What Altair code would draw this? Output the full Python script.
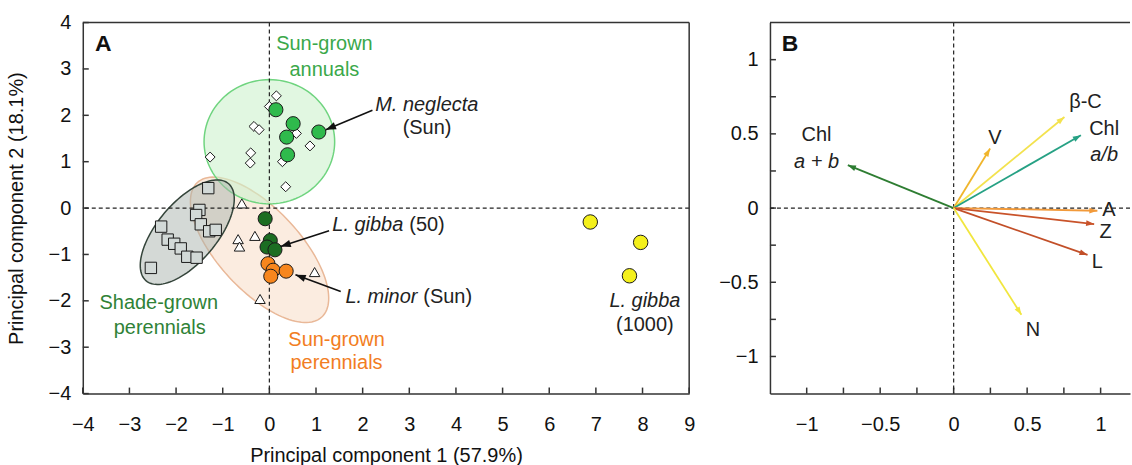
import altair as alt
import pandas as pd
import numpy as np

FONT = "Liberation Sans"

# ---------------- Panel A data ----------------
ann_x = [0.14, 0.51, 1.06, 0.37, 0.39]
ann_y = [2.12, 1.82, 1.64, 1.53, 1.15]
dia_x = [0.15, 0.00, -0.33, -0.22, 0.58, 0.87, -1.27, -0.40, -0.41, 0.28, 0.35]
dia_y = [2.42, 2.19, 1.76, 1.69, 1.61, 1.34, 1.10, 1.19, 0.97, 1.00, 0.46]
sq_x = [-1.31, -1.50, -1.57, -1.47, -1.29, -1.15, -2.32, -2.18, -2.04, -1.90, -1.76, -1.56, -2.54]
sq_y = [0.43, -0.04, -0.15, -0.35, -0.50, -0.47, -0.40, -0.68, -0.77, -0.87, -1.05, -1.07, -1.29]
tri_x = [-0.59, -0.67, -0.64, -0.31, 0.97, -0.20]
tri_y = [0.10, -0.67, -0.83, -0.60, -1.38, -1.96]
lg50_x = [-0.09, 0.02, -0.05, 0.12]
lg50_y = [-0.23, -0.70, -0.84, -0.90]
lmin_x = [-0.03, 0.08, 0.36, 0.03]
lmin_y = [-1.20, -1.34, -1.36, -1.47]
lg1000_x = [6.88, 7.96, 7.72]
lg1000_y = [-0.30, -0.74, -1.46]

# confidence ellipses: sun-grown perennials, sun-grown annuals, shade-grown perennials
ell_name = ["sunper", "annual", "shade"]
ell_cx = [-0.21, 0.00, -1.76]
ell_cy = [-0.90, 1.43, -0.52]
ell_a = [1.97, 1.40, 1.37]
ell_b = [0.88, 1.34, 0.64]
ell_ang = [-47.4, 0.0, 50.0]
ell_fill = ["#f8dcc6", "#cdf1cd", "#aab3ae"]
ell_stroke = ["#e9b898", "#6fd47f", "#34443a"]
ell_fop = [0.55, 0.6, 0.5]

# annotation arrows (from -> to)
arrA_x1 = [2.21, 1.28, 1.53]
arrA_y1 = [2.11, -0.49, -1.80]
arrA_x2 = [1.21, 0.24, 0.56]
arrA_y2 = [1.69, -0.83, -1.44]

# ---------------- Panel B data ----------------
var_name = ["Chl a+b", "V", "β-C", "Chl a/b", "A", "Z", "L", "N"]
var_x = [-0.72, 0.248, 0.754, 0.866, 0.978, 0.956, 0.911, 0.461]
var_y = [0.289, 0.401, 0.614, 0.491, -0.018, -0.108, -0.316, -0.719]
var_col = ["#2e7d32", "#f0b52c", "#f3e24e", "#26a184", "#f29a3a", "#c9532a", "#c24f28", "#f1e63e"]

A_TICKS_X = list(range(-4, 10))
A_TICKS_Y = list(range(-4, 5))
B_TICKS = [-1, -0.75, -0.5, -0.25, 0, 0.25, 0.5, 0.75, 1]
B_LABELS = [-1, -0.5, 0, 0.5, 1]

A_W, A_H = 608, 372
B_W, B_H = 361, 372
AX_DOM, AY_DOM = [-4, 9], [-4, 4]
BX_DOM, BY_DOM = [-1.25, 1.2], [-1.25, 1.25]
A_SX, A_SY = A_W / 13, A_H / 8
B_SX, B_SY = B_W / 2.45, B_H / 2.5

INK = "#222222"


def X(dom, field="x", axis=None):
    kw = {"axis": axis} if axis is not None else {}
    return alt.X(field, type="quantitative", scale=alt.Scale(domain=dom, nice=False, zero=False), **kw)


def Y(dom, field="y", axis=None):
    kw = {"axis": axis} if axis is not None else {}
    return alt.Y(field, type="quantitative", scale=alt.Scale(domain=dom, nice=False, zero=False), **kw)


def arrow_df(x1, y1, x2, y2, sx, sy, extra=None):
    d = pd.DataFrame({"x": x1, "y": y1, "x2": x2, "y2": y2})
    dx = (d["x2"] - d["x"]) * sx
    dy = -(d["y2"] - d["y"]) * sy
    d["ang"] = (np.degrees(np.arctan2(dx, -dy)) + 360) % 360
    if extra:
        for k, v in extra.items():
            d[k] = v
    return d


HEAD = "M0,0L-0.36,1L0.36,1Z"

# ================= Panel A =================
axA_x = alt.Axis(values=A_TICKS_X, title="Principal component 1 (57.9%)", format="d",
                 labelPadding=21, titlePadding=11)
axA_y = alt.Axis(values=A_TICKS_Y, title="Principal component 2 (18.1%)", format="d",
                 labelPadding=12, titlePadding=22)

layersA = []
# ticks (inward) carrying axes
layersA.append(alt.Chart(pd.DataFrame({"x": A_TICKS_X})).mark_rule(color="#333", strokeWidth=1.5).encode(
    x=X(AX_DOM, axis=axA_x), y=alt.value(A_H), y2=alt.value(A_H - 6)))
layersA.append(alt.Chart(pd.DataFrame({"y": A_TICKS_Y})).mark_rule(color="#333", strokeWidth=1.5).encode(
    y=Y(AY_DOM, axis=axA_y), x=alt.value(0), x2=alt.value(6)))

# ellipses
t = np.linspace(0, 2 * np.pi, 121)
for i in range(len(ell_name)):
    th = np.radians(ell_ang[i])
    ex = ell_cx[i] + ell_a[i] * np.cos(t) * np.cos(th) - ell_b[i] * np.sin(t) * np.sin(th)
    ey = ell_cy[i] + ell_a[i] * np.cos(t) * np.sin(th) + ell_b[i] * np.sin(t) * np.cos(th)
    de = pd.DataFrame({"x": ex, "y": ey, "i": np.arange(len(t))})
    layersA.append(alt.Chart(de).mark_line(interpolate="linear-closed", fill=ell_fill[i],
                                           fillOpacity=ell_fop[i], stroke=ell_stroke[i],
                                           strokeWidth=1.5).encode(
        x=X(AX_DOM), y=Y(AY_DOM), order="i:Q"))

# zero lines and frame
layersA.append(alt.Chart(pd.DataFrame({"x": [0]})).mark_rule(color=INK, strokeDash=[4, 3], strokeWidth=1.2).encode(x=X(AX_DOM)))
layersA.append(alt.Chart(pd.DataFrame({"y": [0]})).mark_rule(color=INK, strokeDash=[4, 3], strokeWidth=1.2).encode(y=Y(AY_DOM)))
layersA.append(alt.Chart(pd.DataFrame({"y": [AY_DOM[1]]})).mark_rule(color="#333", strokeWidth=1.5).encode(y=Y(AY_DOM)))
layersA.append(alt.Chart(pd.DataFrame({"x": [AX_DOM[1]]})).mark_rule(color="#333", strokeWidth=1.5).encode(x=X(AX_DOM)))


def pts(xs, ys, shape, size, fill, sw=1.0):
    return alt.Chart(pd.DataFrame({"x": xs, "y": ys})).mark_point(
        shape=shape, size=size, filled=True, fill=fill, stroke="#1a1a1a", strokeWidth=sw, opacity=1).encode(
        x=X(AX_DOM), y=Y(AY_DOM))


layersA.append(pts(sq_x, sq_y, "square", 130, "#d2d9d7"))
layersA.append(pts(dia_x, dia_y, "diamond", 100, "#ffffff"))
layersA.append(pts(tri_x, tri_y, "triangle-up", 110, "#ffffff"))
layersA.append(pts(ann_x, ann_y, "circle", 200, "#2fba4c"))
layersA.append(pts(lg50_x, lg50_y, "circle", 200, "#1c6d22"))
layersA.append(pts(lmin_x, lmin_y, "circle", 200, "#f7861d"))
layersA.append(pts(lg1000_x, lg1000_y, "circle", 210, "#f4f01c"))

# arrows
da = arrow_df(arrA_x1, arrA_y1, arrA_x2, arrA_y2, A_SX, A_SY)
layersA.append(alt.Chart(da).mark_rule(color="#111", strokeWidth=1.6).encode(
    x=X(AX_DOM), y=Y(AY_DOM), x2="x2:Q", y2="y2:Q"))
layersA.append(alt.Chart(da).mark_point(shape=HEAD, size=420, filled=True, color="#111", opacity=1).encode(
    x=X(AX_DOM, "x2"), y=Y(AY_DOM, "y2"), angle=alt.Angle("ang:Q", scale=None)))


def txt(items, color=INK, style="normal", align="center", weight="normal", size=20, dom=(AX_DOM, AY_DOM)):
    d = pd.DataFrame(items, columns=["text", "x", "y"])
    return alt.Chart(d).mark_text(font=FONT, fontSize=size, fontStyle=style, fontWeight=weight,
                                  align=align, baseline="middle", color=color).encode(
        x=X(dom[0]), y=Y(dom[1]), text="text:N")


layersA.append(txt([("M. neglecta", 2.27, 2.22), ("L. gibba", 1.35, -0.37), ("L. minor", 1.63, -1.91)],
                   style="italic", align="left"))
layersA.append(txt([("(50)", 3.00, -0.37), ("(Sun)", 3.30, -1.91)], align="left"))
layersA.append(txt([("L. gibba", 8.05, -2.00)], style="italic"))
layersA.append(txt([("(Sun)", 3.38, 1.72), ("(1000)", 8.05, -2.52)]))
layersA.append(txt([("Sun-grown", 1.18, 3.54), ("annuals", 1.18, 2.98)], color="#3aa84a"))
layersA.append(txt([("Shade-grown", -2.37, -2.04), ("perennials", -2.35, -2.58)], color="#2f8236"))
layersA.append(txt([("Sun-grown", 1.44, -2.84), ("perennials", 1.44, -3.35)], color="#f27d22"))
layersA.append(txt([("A", -3.56, 3.54)], weight="bold", size=23, color="#111"))

panelA = alt.layer(*layersA).properties(width=A_W, height=A_H)

# ================= Panel B =================
axB_x = alt.Axis(values=B_LABELS, title=None, format=".1~f", labelPadding=21)
axB_y = alt.Axis(values=B_LABELS, title=None, format=".1~f", labelPadding=12)
DB = (BX_DOM, BY_DOM)

layersB = []
layersB.append(alt.Chart(pd.DataFrame({"x": B_TICKS})).mark_rule(color="#333", strokeWidth=1.5).encode(
    x=X(BX_DOM, axis=axB_x), y=alt.value(B_H), y2=alt.value(B_H - 6)))
layersB.append(alt.Chart(pd.DataFrame({"y": B_TICKS})).mark_rule(color="#333", strokeWidth=1.5).encode(
    y=Y(BY_DOM, axis=axB_y), x=alt.value(0), x2=alt.value(6)))
layersB.append(alt.Chart(pd.DataFrame({"x": [0]})).mark_rule(color=INK, strokeDash=[4, 3], strokeWidth=1.2).encode(x=X(BX_DOM)))
layersB.append(alt.Chart(pd.DataFrame({"y": [0]})).mark_rule(color=INK, strokeDash=[4, 3], strokeWidth=1.2).encode(y=Y(BY_DOM)))
layersB.append(alt.Chart(pd.DataFrame({"y": [BY_DOM[1]]})).mark_rule(color="#333", strokeWidth=1.5).encode(y=Y(BY_DOM)))

db = arrow_df([0.0] * len(var_x), [0.0] * len(var_y), var_x, var_y, B_SX, B_SY,
              {"name": var_name, "col": var_col})
layersB.append(alt.Chart(db).mark_rule(strokeWidth=1.8).encode(
    x=X(BX_DOM), y=Y(BY_DOM), x2="x2:Q", y2="y2:Q", color=alt.Color("col:N", scale=None)))
layersB.append(alt.Chart(db).mark_point(shape=HEAD, size=260, filled=True, opacity=1).encode(
    x=X(BX_DOM, "x2"), y=Y(BY_DOM, "y2"), angle=alt.Angle("ang:Q", scale=None),
    color=alt.Color("col:N", scale=None)))

layersB.append(txt([("Chl", -0.933, 0.49), ("V", 0.281, 0.47), ("β-C", 0.897, 0.714), ("Chl", 1.024, 0.536),
                    ("A", 1.057, -0.013), ("Z", 1.034, -0.159), ("L", 0.978, -0.361), ("N", 0.540, -0.82)],
                   dom=DB))
layersB.append(txt([("a + b", -0.933, 0.311), ("a/b", 1.024, 0.356)], style="italic", dom=DB))
layersB.append(txt([("B", -1.113, 1.107)], weight="bold", size=23, color="#111", dom=DB))

panelB = alt.layer(*layersB).properties(width=B_W, height=B_H)

chart = alt.hconcat(panelA, panelB, spacing=81, bounds="flush").properties(
    padding={"left": 5, "top": 11, "right": 0, "bottom": 0}
).configure_view(stroke="transparent").configure_axis(
    labelFont=FONT, titleFont=FONT, labelFontSize=20, titleFontSize=20, titleFontWeight="normal",
    domainColor="#333", domainWidth=1.5, grid=False, ticks=False, labelColor="#111", titleColor="#111",
    labelFlush=False, labelOverlap=False
)

chart.save("out.html", embed_options={"renderer": "svg", "actions": False})
